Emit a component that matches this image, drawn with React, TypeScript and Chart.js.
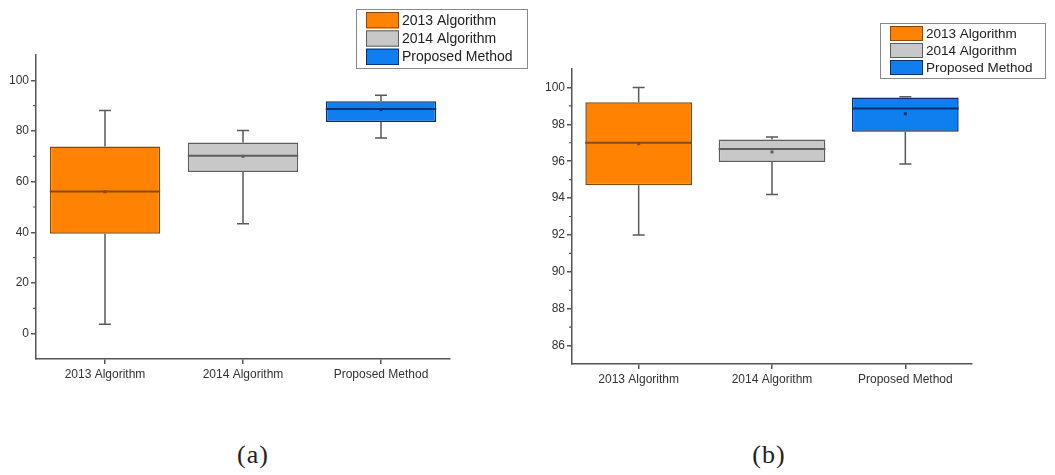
import React, { useEffect, useRef } from 'react';
import { Chart, registerables } from 'chart.js';

Chart.register(...registerables);

// Shared categories
const categories = ['2013 Algorithm', '2014 Algorithm', 'Proposed Method'];

// Panel (a) box statistics
const minA = [3.7, 43.4, 77.2];
const q1A = [39.4, 63.8, 83.6];
const medA = [56.1, 70.2, 88.7];
const q3A = [73.9, 75.5, 91.7];
const maxA = [88.1, 80.2, 94.1];
const meanA = [56.0, 70.0, 88.4];
const majorTicksA = [0, 20, 40, 60, 80, 100];
const minorTicksA = [10, 30, 50, 70, 90];

// Panel (b) box statistics
const minB = [92.0, 94.2, 95.85];
const q1B = [94.7, 95.96, 97.6];
const medB = [97.0, 96.66, 98.86];
const q3B = [99.2, 97.17, 99.45];
const maxB = [100.0, 97.31, 99.5];
const meanB = [96.95, 96.5, 98.57];
const majorTicksB = [86, 88, 90, 92, 94, 96, 98, 100];
const minorTicksB = [87, 89, 91, 93, 95, 97, 99];

const fills = ['#FF8200', '#C8C8C8', '#0F7FEF'];
const edges = ['#8A4A05', '#5E5E5E', '#0B2F6A'];
const axisColor = '#555555';
const fontFamily = '"Liberation Sans", Arial, sans-serif';

type PanelCfg = {
  min: number[]; q1: number[]; med: number[]; q3: number[]; max: number[]; mean: number[];
  yMin: number; yMax: number; major: number[]; minor: number[];
  yWidth: number; padding: { left: number; right: number; top: number; bottom: number };
  legend: { x: number; y: number; w: number; h: number; font: number };
};

function makeBoxPlugin(cfg: PanelCfg) {
  return {
    id: 'boxDetails',
    afterDatasetsDraw(chart: any) {
      const { ctx } = chart;
      const y = chart.scales.y;
      const meta = chart.getDatasetMeta(0);
      ctx.save();
      meta.data.forEach((bar: any, i: number) => {
        const cx = bar.x;
        const half = bar.width / 2;
        const cap = 6;
        const pMin = y.getPixelForValue(cfg.min[i]);
        const pMax = y.getPixelForValue(cfg.max[i]);
        const pQ1 = y.getPixelForValue(cfg.q1[i]);
        const pQ3 = y.getPixelForValue(cfg.q3[i]);
        const pMed = y.getPixelForValue(cfg.med[i]);
        const pMean = y.getPixelForValue(cfg.mean[i]);
        // whiskers
        ctx.strokeStyle = '#5a5a5a';
        ctx.lineWidth = 1.5;
        ctx.beginPath();
        ctx.moveTo(cx, pQ3);
        ctx.lineTo(cx, pMax);
        ctx.moveTo(cx - cap, pMax);
        ctx.lineTo(cx + cap, pMax);
        ctx.moveTo(cx, pQ1);
        ctx.lineTo(cx, pMin);
        ctx.moveTo(cx - cap, pMin);
        ctx.lineTo(cx + cap, pMin);
        ctx.stroke();
        // median
        ctx.strokeStyle = edges[i];
        ctx.lineWidth = 2;
        ctx.beginPath();
        ctx.moveTo(cx - half, pMed);
        ctx.lineTo(cx + half, pMed);
        ctx.stroke();
        // mean marker
        ctx.fillStyle = edges[i];
        ctx.fillRect(cx - 1.5, pMean - 1.5, 3, 3);
      });
      // minor ticks on the value axis
      ctx.strokeStyle = axisColor;
      ctx.lineWidth = 1.2;
      ctx.beginPath();
      cfg.minor.forEach((v) => {
        const py = y.getPixelForValue(v);
        ctx.moveTo(y.right - 3, py);
        ctx.lineTo(y.right, py);
      });
      ctx.stroke();
      ctx.restore();
    },
    afterDraw(chart: any) {
      const { ctx } = chart;
      const L = cfg.legend;
      ctx.save();
      ctx.fillStyle = '#ffffff';
      ctx.fillRect(L.x, L.y, L.w, L.h);
      ctx.strokeStyle = '#8a8a8a';
      ctx.lineWidth = 1;
      ctx.strokeRect(L.x + 0.5, L.y + 0.5, L.w, L.h);
      const rowH = (L.h - 4) / categories.length;
      categories.forEach((name, i) => {
        const top = L.y + 2 + i * rowH;
        ctx.fillStyle = fills[i];
        ctx.fillRect(L.x + 10, top + 1, 33, rowH - 2);
        ctx.strokeStyle = edges[i];
        ctx.lineWidth = 1;
        ctx.strokeRect(L.x + 10.5, top + 1.5, 32, rowH - 3);
        ctx.fillStyle = '#222222';
        ctx.font = `${L.font}px ${fontFamily}`;
        ctx.textBaseline = 'middle';
        ctx.textAlign = 'left';
        ctx.fillText(name, L.x + 46, top + rowH / 2 + 0.5);
      });
      ctx.restore();
    },
  };
}

function BoxPanel({ cfg, width, height, left }: { cfg: PanelCfg; width: number; height: number; left: number }) {
  const ref = useRef<HTMLCanvasElement | null>(null);
  useEffect(() => {
    if (!ref.current) return;
    const chart = new Chart(ref.current, {
      type: 'bar',
      data: {
        labels: categories,
        datasets: [
          {
            data: categories.map((_, i) => [cfg.q1[i], cfg.q3[i]]) as any,
            backgroundColor: fills,
            borderColor: edges,
            borderWidth: 1.5,
            borderSkipped: false,
            categoryPercentage: 0.8,
            barPercentage: 1,
          },
        ],
      },
      options: {
        responsive: false,
        animation: false,
        layout: { padding: cfg.padding },
        plugins: { legend: { display: false }, tooltip: { enabled: false } },
        scales: {
          x: {
            afterFit: (s: any) => { s.height = 30; },
            grid: { display: true, offset: false, drawOnChartArea: false, drawTicks: true, tickLength: 5, color: axisColor, lineWidth: 1.5 },
            border: { display: true, color: axisColor, width: 1.5 },
            ticks: { color: '#333333', font: { family: fontFamily, size: 12 }, padding: 3, maxRotation: 0 },
          },
          y: {
            min: cfg.yMin,
            max: cfg.yMax,
            afterFit: (s: any) => { s.width = cfg.yWidth; },
            afterBuildTicks: (s: any) => { s.ticks = cfg.major.map((v) => ({ value: v })); },
            grid: { display: true, drawOnChartArea: false, drawTicks: true, tickLength: 5, color: axisColor, lineWidth: 1.5 },
            border: { display: true, color: axisColor, width: 1.5 },
            ticks: { color: '#333333', font: { family: fontFamily, size: 12 }, padding: 2 },
          },
        },
      },
      plugins: [makeBoxPlugin(cfg)],
    });
    return () => chart.destroy();
  }, []);
  return (
    <canvas
      ref={ref}
      width={width}
      height={height}
      style={{ position: 'absolute', left, top: 0, width, height }}
    />
  );
}

const panelA: PanelCfg = {
  min: minA, q1: q1A, med: medA, q3: q3A, max: maxA, mean: meanA,
  yMin: -10, yMax: 110, major: majorTicksA, minor: minorTicksA,
  yWidth: 36, padding: { left: 0, right: 80, top: 55, bottom: 11 },
  legend: { x: 356, y: 9, w: 171, h: 59, font: 14 },
};

const panelB: PanelCfg = {
  min: minB, q1: q1B, med: medB, q3: q3B, max: maxB, mean: meanB,
  yMin: 85, yMax: 101, major: majorTicksB, minor: minorTicksB,
  yWidth: 42, padding: { left: 0, right: 83, top: 69, bottom: 6 },
  legend: { x: 350, y: 23, w: 165, h: 55, font: 13.5 },
};

const captionStyle: React.CSSProperties = {
  position: 'absolute',
  top: 440,
  width: 80,
  textAlign: 'center',
  fontFamily: '"Liberation Serif", "Times New Roman", serif',
  fontSize: 26,
  letterSpacing: 1,
  color: '#222',
  lineHeight: '30px',
};

export default function App() {
  return (
    <div style={{ position: 'absolute', left: 0, top: 0, width: 1055, height: 475, background: '#fff', overflow: 'hidden' }}>
      <BoxPanel cfg={panelA} width={530} height={400} left={0} />
      <BoxPanel cfg={panelB} width={525} height={400} left={530} />
      <div style={{ ...captionStyle, left: 213 }}>(a)</div>
      <div style={{ ...captionStyle, left: 729 }}>(b)</div>
    </div>
  );
}
